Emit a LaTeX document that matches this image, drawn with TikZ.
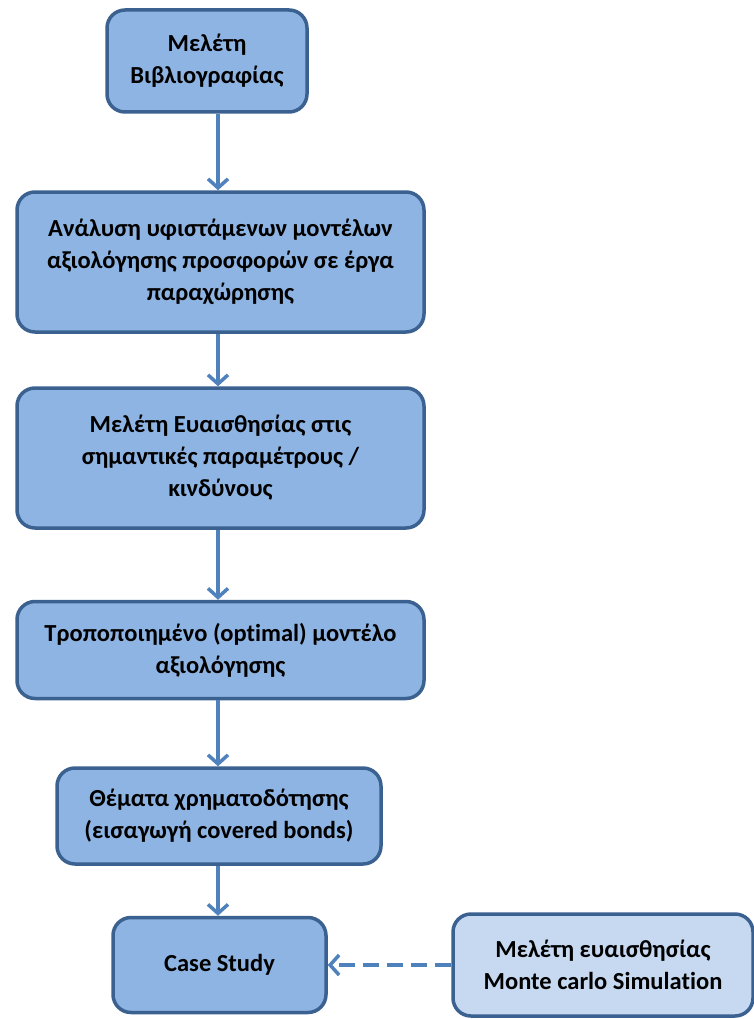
\documentclass[tikz,border=0pt]{standalone}
\usepackage{fontspec}
\setmainfont{Carlito}[Ligatures=NoCommon]
\usetikzlibrary{arrows.meta}
\definecolor{boxfill}{HTML}{8EB4E3}
\definecolor{boxline}{HTML}{3B6190}
\definecolor{lightfill}{HTML}{C6D9F1}
\definecolor{arrowcol}{HTML}{4F81BD}
\tikzset{
  flowbox/.style={draw=boxline, line width=3.5pt, fill=boxfill, rounded corners=18pt,
    align=center, font=\fontsize{24.5}{32}\selectfont\bfseries, inner sep=0pt},
  flowarrow/.style={draw=arrowcol, line width=3.5pt, -{Straight Barb[length=9pt,width=20pt,line width=3.5pt]}},
}
\begin{document}
\begin{tikzpicture}[x=1pt,y=-1pt]
\useasboundingbox (0,0) rectangle (754,1019);
\node[flowbox, minimum width=200pt, minimum height=102pt] (b1) at (207,61) {Μελέτη\\Βιβλιογραφίας};
\node[flowbox, minimum width=407pt, minimum height=140pt] (b2) at (220.5,262) {Ανάλυση υφιστάμενων μοντέλων\\αξιολόγησης προσφορών σε έργα\\παραχώρησης};
\node[flowbox, minimum width=407pt, minimum height=140pt] (b3) at (220.5,458) {Μελέτη Ευαισθησίας στις\\σημαντικές παραμέτρους /\\κινδύνους};
\node[flowbox, minimum width=407pt, minimum height=97pt] (b4) at (220.5,650) {Τροποποιημένο (optimal) μοντέλο\\αξιολόγησης};
\node[flowbox, minimum width=324pt, minimum height=96pt] (b5) at (219,816) {Θέματα χρηματοδότησης\\(εισαγωγή covered bonds)};
\node[flowbox, minimum width=213pt, minimum height=95pt] (b6) at (219.5,965) {Case Study};
\node[flowbox, fill=lightfill, minimum width=300pt, minimum height=102pt] (b7) at (603,965) {Μελέτη ευαισθησίας\\Monte carlo Simulation};
\draw[flowarrow] (b1.south -| 218,0) -- (b2.north -| 218,0);
\draw[flowarrow] (b2.south -| 218,0) -- (b3.north -| 218,0);
\draw[flowarrow] (b3.south -| 218,0) -- (b4.north -| 218,0);
\draw[flowarrow] (b4.south -| 218,0) -- (b5.north -| 218,0);
\draw[flowarrow] (b5.south -| 218,0) -- (b6.north -| 218,0);
\draw[flowarrow, dashed, dash pattern=on 16pt off 8pt] (b7.west) -- (b6.east);
\end{tikzpicture}
\end{document}
